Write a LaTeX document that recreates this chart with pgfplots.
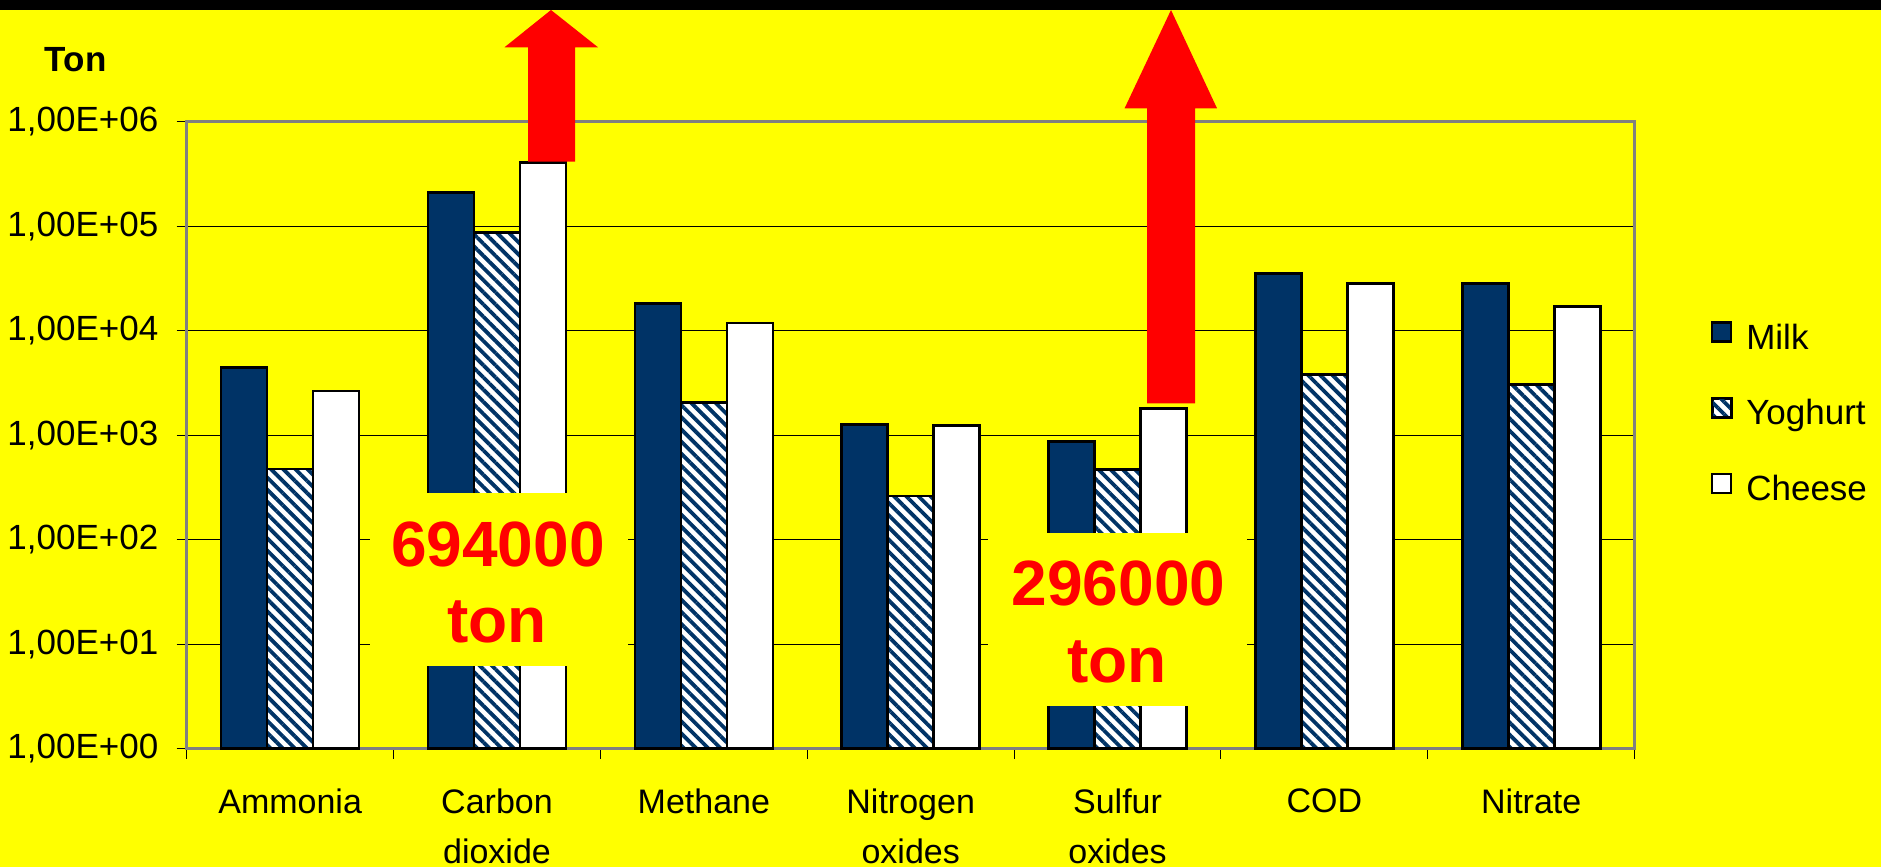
\documentclass[border=0pt]{standalone}
\usepackage{fontspec}
\setmainfont{Liberation Sans}
\usepackage{pgfplots}
\pgfplotsset{compat=1.18}
\usetikzlibrary{patterns.meta}
\definecolor{navy}{HTML}{003366}
\definecolor{bg}{HTML}{FFFF00}
\definecolor{axgray}{HTML}{808080}
\definecolor{annred}{HTML}{FF0000}
\pgfplotsset{
  mybar/.style={draw=black, line width=1.3pt,
    legend image code/.code={\draw[##1, line width=1.1pt] (0.5pt,-0.5pt) rectangle (10pt,9pt);}},
}
\begin{document}
\begin{tikzpicture}[x=1pt,y=1pt]
\fill[bg] (0,0) rectangle (940.5,433.5);
\useasboundingbox (0,0) rectangle (940.5,433.5);
\node[anchor=base west, inner sep=0pt, font=\fontsize{17.5}{21}\selectfont\bfseries] at (22.3,397.65) {Ton};
\begin{axis}[
  at={(93.35pt,59.15pt)}, anchor=south west,
  scale only axis, width=724pt, height=313.5pt,
  ymode=log, ymin=1, ymax=1e6,
  xmin=-0.5, xmax=6.5,
  ybar=0pt, bar width=23pt,
  xtick={0,...,6},
  xticklabels={Ammonia,{Carbon\\dioxide},Methane,{Nitrogen\\oxides},{Sulfur\\oxides},COD,Nitrate},
  minor xtick={-0.5,0.5,...,6.5},
  yminorticks=false,
  ytick={1,10,100,1000,10000,100000,1000000},
  yticklabels={{1,00E+00},{1,00E+01},{1,00E+02},{1,00E+03},{1,00E+04},{1,00E+05},{1,00E+06}},
  tick align=outside, tick pos=left,
  major tick length=5pt, minor tick length=5pt,
  major x tick style={draw=none},
  minor x tick style={black, line width=0.5pt},
  ytick style={black, line width=0.5pt},
  ymajorgrids, major grid style={black, line width=0.5pt},
  axis line style={axgray, line width=1.3pt},
  xticklabel style={font=\fontsize{17}{25}\selectfont, align=center, anchor=north, inner sep=0pt, yshift=-14.8pt},
  yticklabel style={font=\fontsize{17.5}{21}\selectfont, anchor=east, inner sep=0pt, xshift=-9pt},
  legend style={at={(1.0525,0.6820)}, anchor=north west, draw=none, fill=none, inner sep=0pt,
    font=\fontsize{17.5}{21}\selectfont, row sep=20.6pt, column sep=7pt,
    nodes={inner sep=0pt, text height=12pt, text depth=3.5pt}},
  legend cell align=left,
  clip=false,
]
\addplot[mybar, fill=navy] coordinates {(0,4430) (1,211000) (2,18300) (3,1260) (4,866) (5,35400) (6,28400)};
\addplot[mybar, preaction={fill=white}, pattern={Lines[angle=-45,distance=4.3pt,line width=1.9pt]}, pattern color=navy] coordinates {(0,475) (1,86700) (2,2050) (3,262) (4,472) (5,3830) (6,3070)};
\addplot[mybar, fill=white] coordinates {(0,2650) (1,408000) (2,11800) (3,1240) (4,1790) (5,28400) (6,17000)};
\legend{Milk, Yoghurt, Cheese}
\end{axis}
% annotation boxes
\fill[bg] (185,100.5) rectangle (314,187);
\node[anchor=base, inner sep=0pt, text=annred, font=\fontsize{32}{38}\selectfont\bfseries] at (249,150.15) {694000};
\node[anchor=base, inner sep=0pt, text=annred, font=\fontsize{32}{38}\selectfont\bfseries] at (248.5,112.15) {ton};
\fill[bg] (494,80.5) rectangle (623.5,167);
\node[anchor=base, inner sep=0pt, text=annred, font=\fontsize{32}{38}\selectfont\bfseries] at (559.25,130.5) {296000};
\node[anchor=base, inner sep=0pt, text=annred, font=\fontsize{32}{38}\selectfont\bfseries] at (558.6,92.15) {ton};
% arrows
\fill[annred] (264,352.65) -- (264,409.85) -- (252.25,409.85) -- (275.5,428.5) -- (299,409.85) -- (287.5,409.85) -- (287.5,352.65) -- cycle;
\fill[annred] (573.5,231.85) -- (573.5,379.35) -- (562.3,379.35) -- (585.5,428.5) -- (608.5,379.35) -- (597.5,379.35) -- (597.5,231.85) -- cycle;
% top band
\fill[black] (0,428.5) rectangle (940.5,433.5);
\end{tikzpicture}
\end{document}
